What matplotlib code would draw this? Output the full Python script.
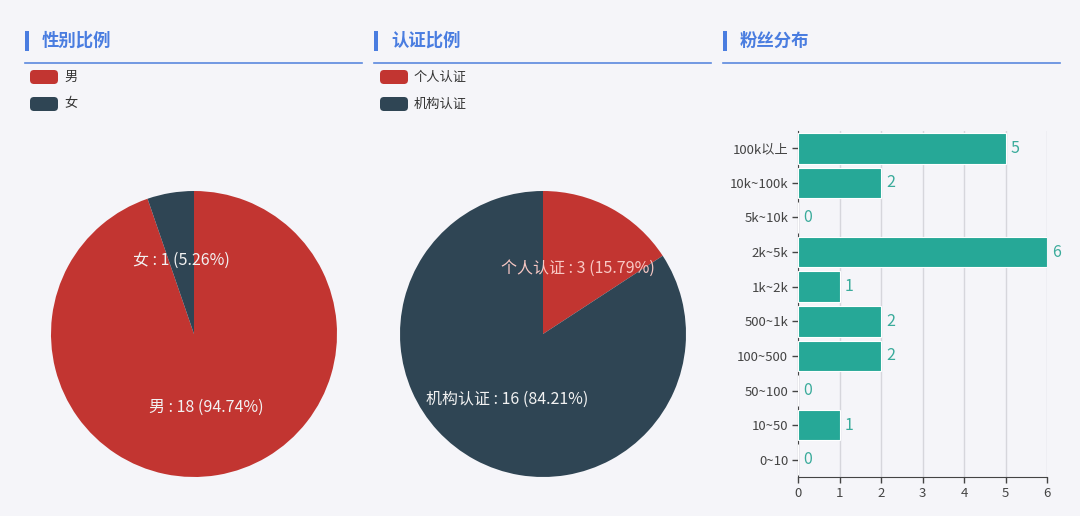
import matplotlib.pyplot as plt
from matplotlib.patches import FancyBboxPatch, Rectangle

plt.rcParams['font.family'] = ['Noto Sans CJK SC', 'DejaVu Sans']

# data
gender_labels = ['男', '女']
gender_counts = [18, 1]
cert_labels = ['个人认证', '机构认证']
cert_counts = [3, 16]
fan_bins = ['0~10', '10~50', '50~100', '100~500', '500~1k', '1k~2k',
            '2k~5k', '5k~10k', '10k~100k', '100k以上']
fan_counts = [0, 1, 0, 2, 2, 1, 6, 0, 2, 5]

titles = ['性别比例', '认证比例', '粉丝分布']

W, H = 1080, 516
BG = '#f5f5f9'
RED = '#c23531'
DARK = '#2f4554'
TEAL = '#26a897'
BLUE = '#4a7de0'

fig = plt.figure(figsize=(W / 100, H / 100), dpi=100, facecolor=BG)


def px_axes(left, top, width, height, **kw):
    return fig.add_axes([left / W, 1 - (top + height) / H, width / W, height / H], **kw)


# overlay in pixel coords for headers and legends
deco = px_axes(0, 0, W, H)
deco.set_xlim(0, W)
deco.set_ylim(H, 0)
deco.axis('off')
deco.set_zorder(-1)

for i, t in enumerate(titles):
    x0 = 25 + i * 349
    deco.add_patch(Rectangle((x0, 31), 4, 20, color=BLUE, lw=0))
    deco.text(x0 + 17, 41, t, color=BLUE, fontsize=12.5, fontweight='bold',
              va='center', ha='left')
    deco.plot([x0, x0 + 337], [63, 63], color='#5b88de', lw=1.2)


def legend(x0, labels, colors):
    for j, (lab, c) in enumerate(zip(labels, colors)):
        y = 70 + j * 27
        deco.add_patch(FancyBboxPatch((x0, y), 28, 14, boxstyle='round,pad=0,rounding_size=4',
                                      color=c, lw=0))
        deco.text(x0 + 34, y + 7, lab, fontsize=9.5, color='#333333', va='center', ha='left')


legend(30, gender_labels, [RED, DARK])
legend(380, cert_labels, [RED, DARK])


def pie(ax, counts, labels, label_colors):
    total = sum(counts)
    wedges, texts = ax.pie(counts, colors=[RED, DARK], startangle=90, counterclock=False,
                           labels=['%s : %d (%.2f%%)' % (l, c, c / total * 100)
                                   for l, c in zip(labels, counts)],
                           labeldistance=0.52, radius=1,
                           wedgeprops=dict(linewidth=0))
    for t, c in zip(texts, label_colors):
        t.set_fontsize(11.5)
        t.set_color(c)
        t.set_ha('center')
        t.set_va('center')
    ax.set_xlim(-1, 1)
    ax.set_ylim(-1, 1)
    ax.set_aspect('equal')


ax1 = px_axes(51, 191, 286, 286)
pie(ax1, gender_counts, gender_labels, ['#f2f2f2', '#f2f2f2'])
ax2 = px_axes(400, 191, 286, 286)
pie(ax2, cert_counts, cert_labels, ['#f8c8c4', '#f2f2f2'])

# bar chart
ax3 = px_axes(798, 131, 249, 346)
ax3.set_facecolor('none')
ypos = list(range(len(fan_bins)))
ax3.barh(ypos, fan_counts, height=0.88, color=TEAL, edgecolor='white', linewidth=0.8, zorder=3)
for y, v in zip(ypos, fan_counts):
    ax3.text(v + 0.12, y, str(v), color='#3aab9b', fontsize=11.5, va='center', ha='left')
ax3.set_xlim(0, 6)
ax3.set_ylim(-0.5, len(fan_bins) - 0.5)
ax3.set_yticks(ypos)
ax3.set_yticklabels(fan_bins)
ax3.set_xticks(range(7))
ax3.grid(axis='x', color='#d6d6dc', lw=1, zorder=0)
for s in ['top', 'right']:
    ax3.spines[s].set_visible(False)
for s in ['left', 'bottom']:
    ax3.spines[s].set_color('#444444')
ax3.tick_params(axis='both', colors='#444444', labelsize=9.5, length=4, width=1)
ax3.tick_params(axis='y', pad=3)

fig.savefig('out.png', dpi=100, facecolor=BG)
